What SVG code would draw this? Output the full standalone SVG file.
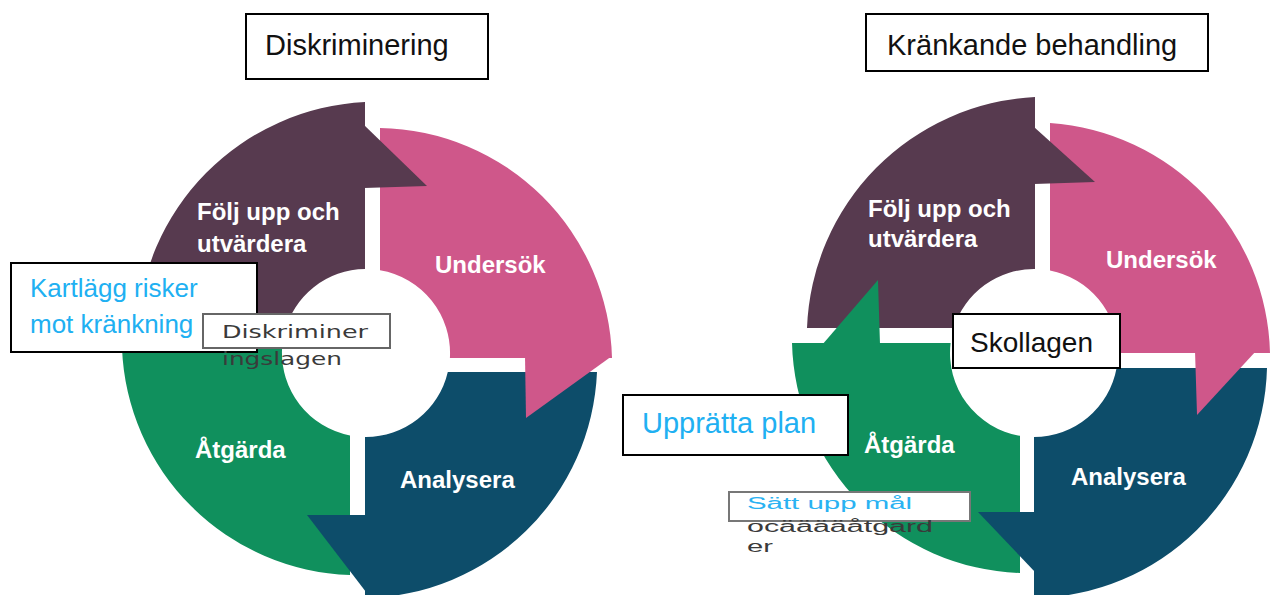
<svg xmlns="http://www.w3.org/2000/svg" width="1271" height="595" viewBox="0 0 1271 595">
<style>
.pu{fill:#573a4f}.pk{fill:#cf578a}.bl{fill:#0d4d6a}.gr{fill:#10905d}
.lbl{font-family:"Liberation Sans",Arial,sans-serif;font-weight:bold;font-size:24px;fill:#ffffff}
.box{fill:#ffffff;stroke:#000000;stroke-width:2}
.gbox{fill:#ffffff;stroke:#666666;stroke-width:2}
.title{font-family:"Liberation Sans",Arial,sans-serif;font-size:29px;fill:#111111}
.blue{font-family:"Liberation Sans",Arial,sans-serif;fill:#20b0f2}
.small{font-family:"DejaVu Sans",Verdana,sans-serif;font-size:18px;fill:#3a3a3a}
.pix{font-family:"Liberation Sans",Arial,sans-serif;font-size:16px}
</style>
<rect x="0" y="0" width="1271" height="595" fill="#ffffff"/>

<!-- LEFT CYCLE -->
<g id="left-cycle">
  <g id="l-folj">
    <path class="pu" d="M284.4,333 L137,333 A240,240 0 0 1 365,102 L365,269 A84,84 0 0 0 284.4,333 Z"/>
  </g>
  <g id="l-undersok">
    <path class="pk" d="M380,270.2 L380,128 A236,236 0 0 1 612,358 L449.9,358 A84,84 0 0 0 380,270.2 Z"/>
  </g>
  <g id="l-analysera">
    <path class="bl" d="M447.8,372 L597,372 A236,236 0 0 1 365,598 L365,437 A84,84 0 0 0 447.8,372 Z"/>
  </g>
  <g id="l-atgarda">
    <path class="gr" d="M350,435.5 L350,575 A236,236 0 0 1 122,348 L282.1,348 A84,84 0 0 0 350,435.5 Z"/>
  </g>
  <g id="l-arrowheads">
    <path class="pu" d="M364,125 L427,186 L364,188 Z"/>
    <path class="pk" d="M525,356 L612,356 L526,418 Z"/>
    <path class="bl" d="M366,515 L307,515 L366,592 Z"/>
    <path class="gr" d="M208,350 L207,288 L135,350 Z"/>
  </g>
  <g id="l-labels">
    <text class="lbl" x="197" y="220">Följ upp och</text>
    <text class="lbl" x="197" y="252">utvärdera</text>
    <text class="lbl" x="435" y="273">Undersök</text>
    <text class="lbl" x="195" y="458">Åtgärda</text>
    <text class="lbl" x="400" y="488">Analysera</text>
  </g>
</g>

<!-- RIGHT CYCLE -->
<g id="right-cycle">
  <g id="r-folj">
    <path class="pu" d="M953.8,328 L807,328 A240,240 0 0 1 1035,97 L1035,269 A84,84 0 0 0 953.8,328 Z"/>
  </g>
  <g id="r-undersok">
    <path class="pk" d="M1050,270.5 L1050,123 A236,236 0 0 1 1270,353 L1118,353 A84,84 0 0 0 1050,270.5 Z"/>
  </g>
  <g id="r-analysera">
    <path class="bl" d="M1116.6,368 L1267,368 A236,236 0 0 1 1034,598 L1034,437 A84,84 0 0 0 1116.6,368 Z"/>
  </g>
  <g id="r-atgarda">
    <path class="gr" d="M1020,435.8 L1020,573 A236,236 0 0 1 792,343 L950.6,343 A84,84 0 0 0 1020,435.8 Z"/>
  </g>
  <g id="r-arrowheads">
    <path class="pu" d="M1034,127 L1095,182 L1034,184 Z"/>
    <path class="pk" d="M1195,351 L1256,351 L1197,415 Z"/>
    <path class="bl" d="M1035,512 L978,512 L1035,572 Z"/>
    <path class="gr" d="M880,345 L878,280 L822,345 Z"/>
  </g>
  <g id="r-labels">
    <text class="lbl" x="868" y="217">Följ upp och</text>
    <text class="lbl" x="868" y="247">utvärdera</text>
    <text class="lbl" x="1106" y="268">Undersök</text>
    <text class="lbl" x="864" y="453">Åtgärda</text>
    <text class="lbl" x="1071" y="485">Analysera</text>
  </g>
</g>

<!-- TEXT BOXES -->
<g id="title-diskriminering">
  <rect class="box" x="246" y="14" width="242" height="65"/>
  <text class="title" x="265" y="55">Diskriminering</text>
</g>
<g id="title-krankande">
  <rect class="box" x="866" y="14" width="342" height="57"/>
  <text class="title" x="887" y="55">Kränkande behandling</text>
</g>
<g id="kartlagg">
  <rect class="box" x="11" y="263" width="246" height="89"/>
  <text class="blue" font-size="26" x="30" y="297">Kartlägg risker</text>
  <text class="blue" font-size="26" x="30" y="333">mot kränkning</text>
</g>
<g id="diskrimineringslagen">
  <rect class="gbox" x="203" y="314" width="187" height="34"/>
  <text class="small" x="222" y="338" textLength="146" lengthAdjust="spacingAndGlyphs">Diskriminer</text>
  <text class="small" x="222" y="365" textLength="120" lengthAdjust="spacingAndGlyphs">ingslagen</text>
</g>
<g id="skollagen">
  <rect class="box" x="953" y="314" width="167" height="54"/>
  <text class="title" font-size="28" x="970" y="352" style="font-size:28px">Skollagen</text>
</g>
<g id="uppratta">
  <rect class="box" x="623" y="395" width="225" height="60"/>
  <text class="blue" font-size="29" x="642" y="433">Upprätta plan</text>
</g>
<g id="satt-upp-mal">
  <rect class="gbox" x="729" y="492" width="241" height="29" style="stroke:#777777"/>
  <text class="pix" x="747" y="509" fill="#2ab2f2" textLength="165" lengthAdjust="spacingAndGlyphs">Sätt upp mål</text>
  <text class="pix" x="747" y="532" fill="#3a3a3a" textLength="186" lengthAdjust="spacingAndGlyphs">ocääääåtgard</text>
  <text class="pix" x="747" y="552" fill="#3a3a3a" textLength="26" lengthAdjust="spacingAndGlyphs">er</text>
</g>
</svg>
